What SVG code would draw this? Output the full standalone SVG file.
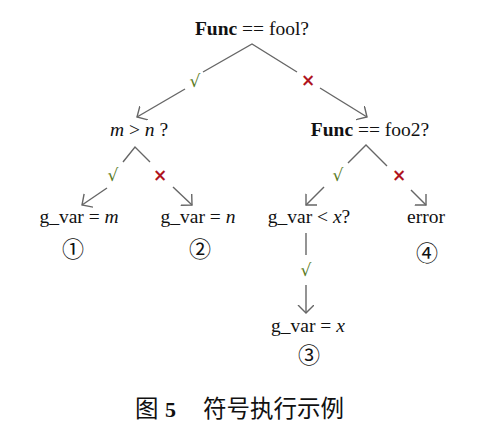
<svg xmlns="http://www.w3.org/2000/svg" width="493" height="427" viewBox="0 0 493 427">
<style>
.t{font-family:"Liberation Serif","Times New Roman",serif;font-size:19.5px;fill:#111}
.b{font-weight:bold}
.i{font-style:italic}
.c{font-family:"Noto Sans CJK SC",sans-serif;font-size:22px;fill:#111}
.ok{font-family:"DejaVu Sans",sans-serif;font-size:17px;fill:#5a7a1e}
.no{font-family:"DejaVu Sans",sans-serif;font-size:17px;font-weight:bold;fill:#b0141e}
.l{stroke:#666;stroke-width:1.4;fill:none}
.cap{font-family:"Noto Sans CJK SC",sans-serif;font-size:23.5px;fill:#111}
</style>
<defs>
<marker id="ah" markerUnits="userSpaceOnUse" markerWidth="12" markerHeight="18" refX="8" refY="8" orient="auto" viewBox="0 0 12 18">
<path d="M0,0 L8,8 L0,16" stroke="#666" stroke-width="1.4" fill="none"/>
</marker>
</defs>
<rect width="493" height="427" fill="#fff"/>
<g id="connectors">
<path class="l" d="M203,72 L252,44 L297,72"/>
<line class="l" x1="185" y1="89" x2="137" y2="117" marker-end="url(#ah)"/>
<line class="l" x1="320" y1="88" x2="367" y2="117" marker-end="url(#ah)"/>
<text class="ok" x="195" y="87" text-anchor="middle">√</text>
<text class="no" x="308" y="86" text-anchor="middle">×</text>

<path class="l" d="M123,162 L135,147 L150,162"/>
<line class="l" x1="107" y1="188" x2="82" y2="205" marker-end="url(#ah)"/>
<line class="l" x1="173" y1="187" x2="192" y2="205" marker-end="url(#ah)"/>
<text class="ok" x="113" y="181" text-anchor="middle">√</text>
<text class="no" x="160" y="181" text-anchor="middle">×</text>

<path class="l" d="M348,163 L366,145 L387,166"/>
<line class="l" x1="324" y1="187" x2="306" y2="205" marker-end="url(#ah)"/>
<line class="l" x1="411" y1="190" x2="426" y2="205" marker-end="url(#ah)"/>
<text class="ok" x="338" y="181" text-anchor="middle">√</text>
<text class="no" x="399" y="181" text-anchor="middle">×</text>

<line class="l" x1="306" y1="233" x2="306" y2="255"/>
<line class="l" x1="306" y1="285" x2="306" y2="313" marker-end="url(#ah)"/>
<text class="ok" x="306" y="276" text-anchor="middle">√</text>
</g>
<g id="n0"><text class="t" x="252" y="35" text-anchor="middle"><tspan class="b">Func</tspan> == fool?</text></g>
<g id="n1"><text class="t" x="139" y="136" text-anchor="middle"><tspan class="i">m</tspan> &gt; <tspan class="i">n</tspan> ?</text></g>
<g id="n2"><text class="t" x="370" y="136" text-anchor="middle"><tspan class="b">Func</tspan> == foo2?</text></g>
<g id="n3"><text class="t" x="79" y="223" text-anchor="middle">g_var = <tspan class="i">m</tspan></text><text class="c" x="73" y="257" text-anchor="middle">①</text></g>
<g id="n4"><text class="t" x="198" y="223" text-anchor="middle">g_var = <tspan class="i">n</tspan></text><text class="c" x="200" y="257" text-anchor="middle">②</text></g>
<g id="n5"><text class="t" x="309" y="223" text-anchor="middle">g_var &lt; <tspan class="i">x</tspan>?</text></g>
<g id="n6"><text class="t" x="426" y="223" text-anchor="middle">error</text><text class="c" x="427" y="261" text-anchor="middle">④</text></g>
<g id="n7"><text class="t" x="308" y="332" text-anchor="middle">g_var = <tspan class="i">x</tspan></text><text class="c" x="309" y="363" text-anchor="middle">③</text></g>
<text class="cap" x="135" y="417">图<tspan x="165" font-family="Liberation Serif,serif" font-weight="bold" font-size="22px">5</tspan><tspan x="203">符号执行示例</tspan></text>
</svg>
